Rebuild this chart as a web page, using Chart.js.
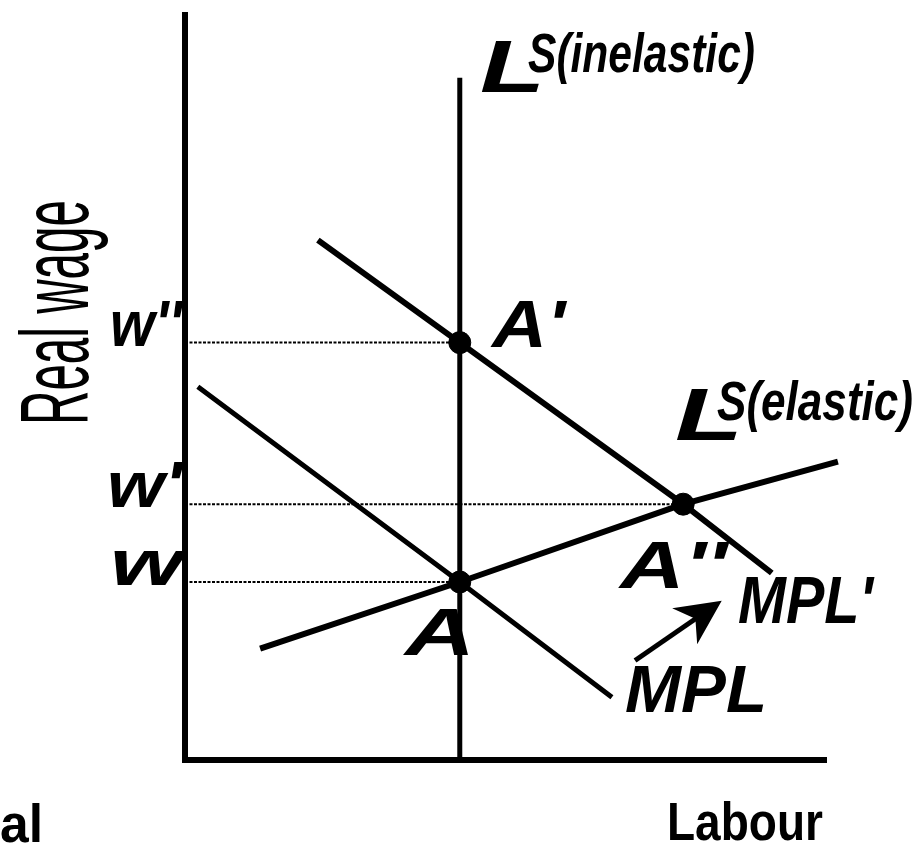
<!DOCTYPE html>
<html>
<head>
<meta charset="utf-8">
<script src="https://cdn.jsdelivr.net/npm/chart.js@4/dist/chart.umd.min.js"></script>
<style>
  html, body { margin: 0; padding: 0; background: #fff; }
  #wrap { width: 922px; height: 846px; }
</style>
</head>
<body>
<div id="wrap"><canvas id="labourChart" width="922" height="846"></canvas></div>
<script>
// labour (x) and real wage (y), both on a 0-100 scale
var axisX = [0, 0, 100];
var axisY = [100, 0, 0];

var lsInelasticX = [42.8, 42.8];
var lsInelasticY = [0, 91.2];

var lsElasticX = [11.7, 42.8, 77.6, 101.7];
var lsElasticY = [14.9, 23.8, 34.2, 39.9];

var mplX = [2.0, 42.8, 66.5];
var mplY = [49.9, 23.8, 8.4];

var mpl2X = [20.7, 42.8, 77.6, 91.4];
var mpl2Y = [69.5, 55.8, 34.2, 25.0];

var eqNames = ["A", "A'", "A''"];
var eqX = [42.8, 42.8, 77.6];
var eqY = [23.8, 55.8, 34.2];
var wageNames = ["w", "w''", "w'"];

var arrowX = [70.1, 83.6];
var arrowY = [13.3, 21.3];

function pts(xs, ys) {
	var out = [];
	for (var i in xs) {
		out.push({x: xs[i], y: ys[i]});
	}
	return out;
}

function line(data, width, dash) {
	return {
		data: data,
		showLine: true,
		borderColor: '#000',
		backgroundColor: '#000',
		borderWidth: width,
		borderDash: dash || [],
		pointRadius: 0,
		clip: false,
		tension: 0,
		order: 1
	};
}

// dotted guides from the wage axis to each equilibrium
var guides = [];
for (var i in eqX) {
	guides.push(line(pts([0, eqX[i]], [eqY[i], eqY[i]]), 2, [3, 1.5]));
}

// text squeezed or stretched to the width it has in the picture
function fitText(ctx, txt, x, y, w, font) {
	ctx.save();
	ctx.font = font;
	var m = ctx.measureText(txt).width;
	ctx.translate(x, y);
	ctx.scale(w / m, 1);
	ctx.fillText(txt, 0, 0);
	ctx.restore();
}

var labelPlugin = {
	id: 'labels',
	afterDraw: function(chart) {
		var ctx = chart.ctx;
		var sx = chart.scales.x, sy = chart.scales.y;
		var bi = "italic bold ";
		ctx.save();
		ctx.fillStyle = '#000';
		ctx.textBaseline = 'alphabetic';
		ctx.textAlign = 'left';

		// y axis title
		ctx.save();
		ctx.translate(88, 425);
		ctx.rotate(-Math.PI / 2);
		fitText(ctx, 'Real wage', 0, 0, 225, "96px 'Liberation Sans'");
		ctx.restore();

		// x axis title + cut-off word at the left edge
		fitText(ctx, 'Labour', 667, 840, 156, "bold 53px 'Liberation Sans'");
		fitText(ctx, 'al', 0, 842, 43, "bold 53px 'Liberation Sans'");

		// wage levels
		var wagePos = {"w": [110, 73], "w''": [110, 72], "w'": [107, 75]};
		for (var i in wageNames) {
			var p = wagePos[wageNames[i]];
			var by = sy.getPixelForValue(eqY[i]) + 3;
			fitText(ctx, wageNames[i], p[0], by, p[1], bi + "64px 'Liberation Sans'");
		}

		// equilibrium names
		fitText(ctx, eqNames[0], 405, 655, 70, bi + "67px 'Liberation Sans'");
		fitText(ctx, eqNames[1], 492, 347, 73, bi + "67px 'Liberation Sans'");
		fitText(ctx, eqNames[2], 620, 588, 107, bi + "67px 'Liberation Sans'");

		// curve names
		fitText(ctx, 'L', 480, 92, 65, bi + "75px 'Liberation Sans'");
		fitText(ctx, 'S(inelastic)', 528, 72, 227, bi + "56px 'Liberation Sans'");
		fitText(ctx, 'L', 675, 440, 68, bi + "75px 'Liberation Sans'");
		fitText(ctx, 'S(elastic)', 717, 420, 196, bi + "56px 'Liberation Sans'");
		fitText(ctx, "MPL'", 738, 623, 135, bi + "67px 'Liberation Sans'");
		fitText(ctx, 'MPL', 625, 712, 142, bi + "67px 'Liberation Sans'");

		// shift arrow
		var x0 = sx.getPixelForValue(arrowX[0]), y0 = sy.getPixelForValue(arrowY[0]);
		var x1 = sx.getPixelForValue(arrowX[1]), y1 = sy.getPixelForValue(arrowY[1]);
		var dx = x1 - x0, dy = y1 - y0, len = Math.sqrt(dx * dx + dy * dy);
		var ux = dx / len, uy = dy / len, px = -uy, py = ux;
		ctx.strokeStyle = '#000';
		ctx.lineWidth = 5;
		ctx.beginPath();
		ctx.moveTo(x0, y0);
		ctx.lineTo(x1 - ux * 30, y1 - uy * 30);
		ctx.stroke();
		ctx.beginPath();
		ctx.moveTo(x1, y1);
		ctx.lineTo(x1 - ux * 45 + px * 22, y1 - uy * 45 + py * 22);
		ctx.lineTo(x1 - ux * 32, y1 - uy * 32);
		ctx.lineTo(x1 - ux * 45 - px * 22, y1 - uy * 45 - py * 22);
		ctx.closePath();
		ctx.fill();

		ctx.restore();
	}
};

var chartdata = {
	datasets: guides.concat([
		line(pts(axisX, axisY), 6),
		line(pts(lsInelasticX, lsInelasticY), 5),
		line(pts(lsElasticX, lsElasticY), 6),
		line(pts(mplX, mplY), 5),
		line(pts(mpl2X, mpl2Y), 6),
		{
			data: pts(eqX, eqY),
			showLine: false,
			pointRadius: 11,
			pointStyle: 'circle',
			pointBackgroundColor: '#000',
			pointBorderColor: '#000',
			pointBorderWidth: 1,
			clip: false,
			order: 0
		}
	])
};

var ctx = document.getElementById('labourChart');

var labourGraph = new Chart(ctx, {
	type: 'scatter',
	data: chartdata,
	options: {
		responsive: false,
		animation: false,
		devicePixelRatio: 1,
		layout: { padding: { left: 185, top: 9, right: 95, bottom: 86 } },
		plugins: { legend: { display: false }, tooltip: { enabled: false } },
		scales: {
			x: { type: 'linear', min: 0, max: 100, display: false },
			y: { type: 'linear', min: 0, max: 100, display: false }
		}
	},
	plugins: [labelPlugin]
});
</script>
</body>
</html>
